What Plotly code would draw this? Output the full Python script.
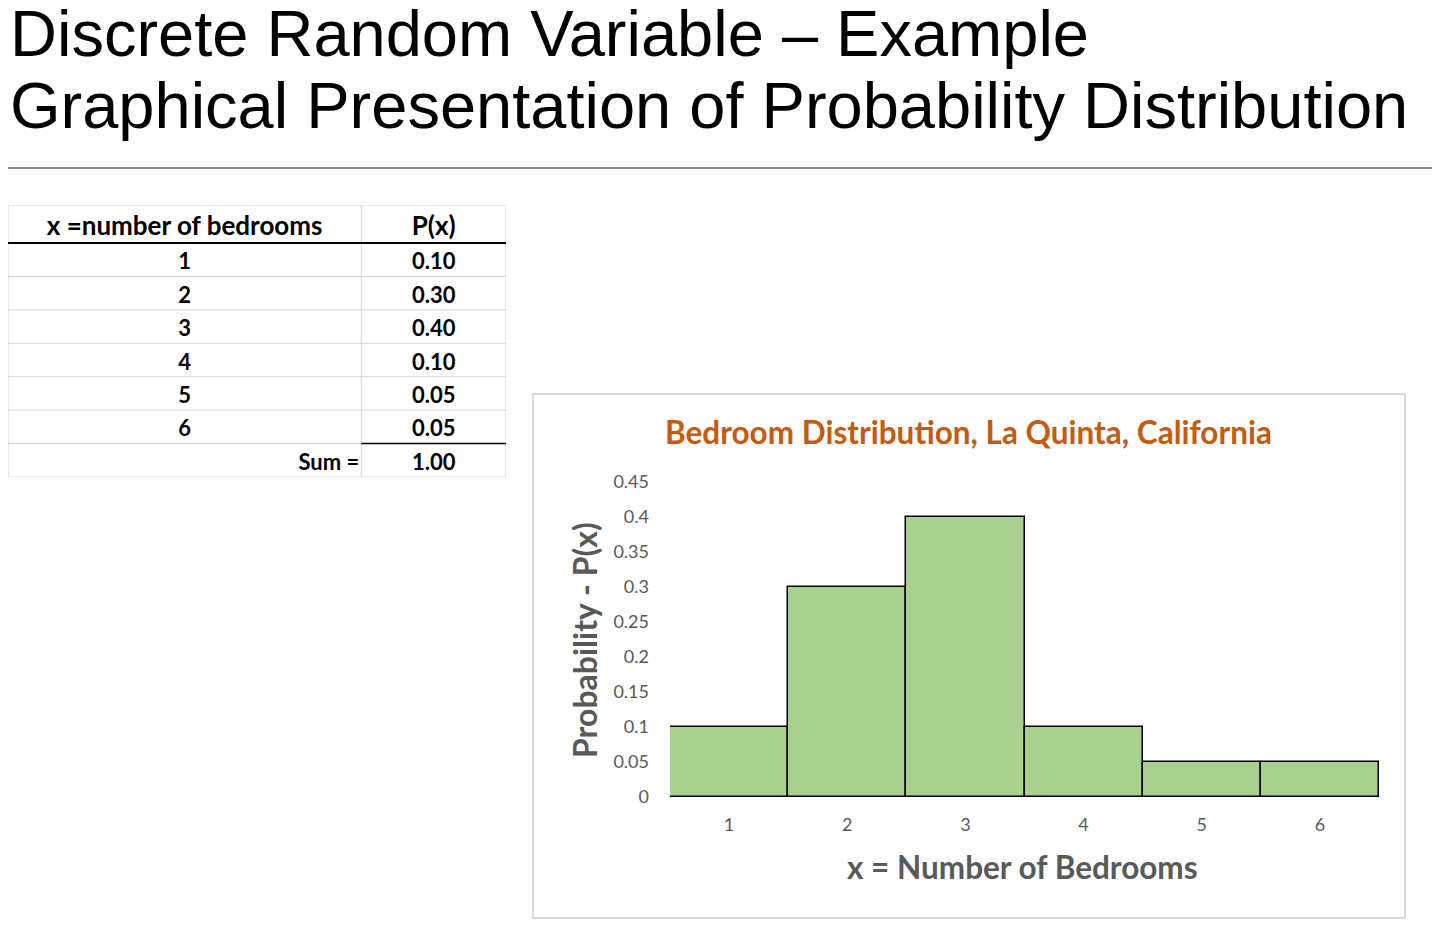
import plotly.graph_objects as go

# ---- data ----
bedrooms = [1, 2, 3, 4, 5, 6]
probs = [0.10, 0.30, 0.40, 0.10, 0.05, 0.05]
y_ticks = [0, 0.05, 0.1, 0.15, 0.2, 0.25, 0.3, 0.35, 0.4, 0.45]
slide_title_1 = "Discrete Random Variable – Example"
slide_title_2 = "Graphical Presentation of Probability Distribution"
chart_title = "Bedroom Distribution, La Quinta, California"
x_title = "x = Number of Bedrooms"
y_title = "Probability - P(x)"
table_header = ["x =number of bedrooms", "P(x)"]
sum_label = "Sum ="

W, H = 1440, 933
OFF = 8  # page body margin in the browser


def px(x):
    return (x - OFF) / W


def py(y):
    return 1 - (y - OFF) / H


LATO = "Lato, Open Sans, sans-serif"
GRID_C = "#d4d4d4"

# ---- table geometry (table-local pixel units) ----
col_w = [354, 145]
tbl_w = sum(col_w)
hdr_h = 38
tbl_h = 272
n_rows = len(bedrooms) + 1
row_h = (tbl_h - hdr_h) / n_rows
bounds = [0, hdr_h] + [hdr_h + row_h * (i + 1) for i in range(n_rows)]
TXT_DY = 4
row_c = [(bounds[i] + bounds[i + 1]) / 2 + TXT_DY for i in range(len(bounds) - 1)]
c1x = col_w[0] / 2
c2x = col_w[0] + col_w[1] / 2

col1 = [str(b) for b in bedrooms]
col2 = [f"{p:.2f}" for p in probs]
total = f"{sum(probs):.2f}"

fig = go.Figure()

# table header
fig.add_trace(go.Scatter(
    x=[c1x, c2x], y=[row_c[0]] * 2, text=table_header, mode="text",
    textposition="middle center", xaxis="x2", yaxis="y2",
    textfont=dict(family=LATO, size=26, color="black", weight="bold"),
    showlegend=False, hoverinfo="skip",
))
# table body
fig.add_trace(go.Scatter(
    x=[c1x] * len(col1) + [c2x] * (len(col2) + 1),
    y=row_c[1:1 + len(col1)] + row_c[1:1 + len(col2)] + [row_c[-1]],
    text=col1 + col2 + [total], mode="text",
    textposition="middle center", xaxis="x2", yaxis="y2",
    textfont=dict(family=LATO, size=22, color="black", weight="bold"),
    showlegend=False, hoverinfo="skip",
))
fig.add_trace(go.Scatter(
    x=[col_w[0] - 2], y=[row_c[-1]], text=[sum_label], mode="text",
    textposition="middle left", xaxis="x2", yaxis="y2",
    textfont=dict(family=LATO, size=22, color="black", weight="bold"),
    showlegend=False, hoverinfo="skip",
))

# bar chart
fig.add_trace(go.Bar(
    x=bedrooms, y=probs, width=1,
    marker=dict(color="#A9D18E", line=dict(color="black", width=1.5)),
    showlegend=False, hoverinfo="skip",
))

tick_font = dict(family=LATO, size=18, color="#595959")

shapes = [
    dict(type="line", xref="paper", yref="paper", x0=px(0), x1=px(1440), y0=py(168), y1=py(168),
         line=dict(color="#8c8c8c", width=2)),
    dict(type="rect", xref="paper", yref="paper", x0=px(533), x1=px(1405), y0=py(918), y1=py(394),
         line=dict(color="#d9d9d9", width=2), layer="below"),
]
# table grid
for b in bounds:
    shapes.append(dict(type="line", xref="x2", yref="y2", x0=0, x1=tbl_w, y0=b, y1=b,
                       line=dict(color=GRID_C, width=1), layer="below"))
for xv in (0, col_w[0], tbl_w):
    shapes.append(dict(type="line", xref="x2", yref="y2", x0=xv, x1=xv, y0=0, y1=tbl_h,
                       line=dict(color=GRID_C, width=1), layer="below"))
shapes.append(dict(type="line", xref="x2", yref="y2", x0=0, x1=tbl_w, y0=hdr_h, y1=hdr_h,
                   line=dict(color="black", width=2)))
shapes.append(dict(type="line", xref="x2", yref="y2", x0=col_w[0], x1=tbl_w, y0=bounds[-2], y1=bounds[-2],
                   line=dict(color="black", width=1.5)))

hidden = dict(showgrid=False, zeroline=False, showline=False, showticklabels=False,
              automargin=False, fixedrange=True, ticks="")

fig.update_layout(
    width=W, height=H,
    margin=dict(l=0, r=0, t=0, b=0),
    paper_bgcolor="white", plot_bgcolor="rgba(0,0,0,0)",
    bargap=0,
    xaxis=dict(
        domain=[px(670), px(1379)], range=[0.5, 6.5],
        tickmode="array", tickvals=bedrooms, ticktext=[str(b) for b in bedrooms],
        showgrid=False, zeroline=False, showline=False, automargin=False,
        tickfont=tick_font, ticklabelstandoff=15, fixedrange=True,
    ),
    yaxis=dict(
        domain=[py(797), py(482)], range=[0, 0.45],
        tickmode="array", tickvals=y_ticks, ticktext=[f"{v:g}" for v in y_ticks],
        showgrid=False, zeroline=False, showline=False, automargin=False,
        tickfont=tick_font, ticklabelstandoff=20, fixedrange=True,
    ),
    xaxis2=dict(domain=[max(0, px(7)), px(7 + tbl_w)], range=[0, tbl_w], anchor="y2", **hidden),
    yaxis2=dict(domain=[py(205 + tbl_h), py(205)], range=[tbl_h, 0], anchor="x2", **hidden),
    shapes=shapes,
    annotations=[
        dict(text=slide_title_1, xref="paper", yref="paper", x=px(8), y=py(34),
             xanchor="left", yanchor="middle", showarrow=False,
             font=dict(family="Liberation Sans, Arial, sans-serif", size=65, color="black")),
        dict(text=slide_title_2, xref="paper", yref="paper", x=px(8), y=py(106),
             xanchor="left", yanchor="middle", showarrow=False,
             font=dict(family="Liberation Sans, Arial, sans-serif", size=65, color="black")),
        dict(text=f"<b>{chart_title}</b>", xref="paper", yref="paper", x=px(968), y=py(432),
             xanchor="center", yanchor="middle", showarrow=False,
             font=dict(family=LATO, size=31.5, color="#C55A11")),
        dict(text=f"<b>{x_title}</b>", xref="paper", yref="paper", x=px(1022), y=py(867),
             xanchor="center", yanchor="middle", showarrow=False,
             font=dict(family=LATO, size=31.5, color="#595959")),
        dict(text=f"<b>{y_title}</b>", xref="paper", yref="paper", x=px(584), y=py(640),
             xanchor="center", yanchor="middle", showarrow=False, textangle=-90,
             font=dict(family=LATO, size=32, color="#595959")),
    ],
)

fig.write_html("out.html")
